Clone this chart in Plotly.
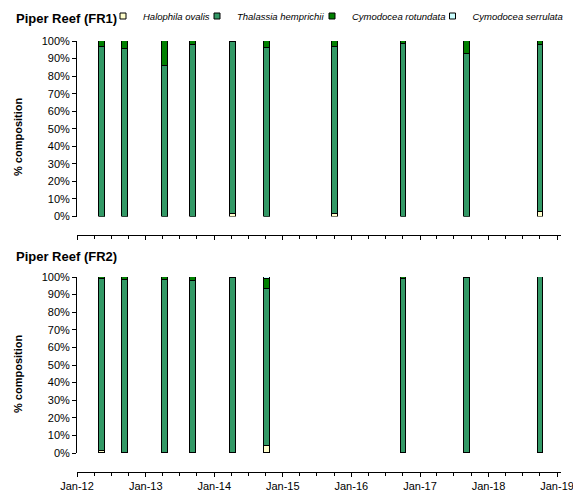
import plotly.graph_objects as go

W, H = 573, 493

species = ["Halophila ovalis", "Thalassia hemprichii", "Cymodocea rotundata", "Cymodocea serrulata"]
colors = ["#FFFFCC", "#339966", "#008000", "#CCFFFF"]

# Piper Reef (FR1)
fr1_dates = ["2012-05-12", "2012-09-11", "2013-04-14", "2013-09-10", "2014-04-11",
             "2014-10-09", "2015-10-06", "2016-10-06", "2017-09-07", "2018-10-05"]
fr1_halophila = [0, 0, 0, 0, 1.2, 0, 1.3, 0, 0, 2.3]
fr1_thalassia = [96.5, 95.5, 85.5, 97.5, 98.3, 96, 95.3, 98.5, 92.8, 95.7]
fr1_rotundata = [3.5, 4.5, 14.5, 2.5, 0.5, 4, 3.4, 1.5, 7.2, 2.0]
fr1_serrulata = [0, 0, 0, 0, 0, 0, 0, 0, 0, 0]

# Piper Reef (FR2)
fr2_dates = ["2012-05-12", "2012-09-11", "2013-04-14", "2013-09-10", "2014-04-11",
             "2014-10-09", "2016-10-06", "2017-09-07", "2018-10-05"]
fr2_halophila = [1.2, 0, 0, 0, 0, 4.2, 0, 0, 0]
fr2_thalassia = [97.6, 98.5, 98.2, 98.0, 99.5, 88.8, 99.0, 99.7, 100]
fr2_rotundata = [1.2, 1.5, 1.8, 2.0, 0.5, 5.8, 1.0, 0.3, 0]
fr2_serrulata = [0, 0, 0, 0, 0, 1.2, 0, 0, 0]

y_ticks = list(range(0, 101, 10))
y_tick_labels = [f"{v}%" for v in y_ticks]
title1 = "Piper Reef (FR1)"
title2 = "Piper Reef (FR2)"
ytitle = "% composition"

BAR_W = 30 * 86400000
FONT = "Liberation Sans, Arial, sans-serif"

fig = go.Figure()
fr1 = [fr1_halophila, fr1_thalassia, fr1_rotundata, fr1_serrulata]
fr2 = [fr2_halophila, fr2_thalassia, fr2_rotundata, fr2_serrulata]
for i, name in enumerate(species):
    fig.add_trace(go.Bar(x=fr1_dates, y=fr1[i], name=name, marker_color=colors[i],
                         marker_line=dict(color="black", width=1), width=BAR_W,
                         xaxis="x", yaxis="y", showlegend=False))
    fig.add_trace(go.Bar(x=fr2_dates, y=fr2[i], name=name, marker_color=colors[i],
                         marker_line=dict(color="black", width=1), width=BAR_W,
                         xaxis="x2", yaxis="y2", showlegend=False))

# legend entries (small square keys), one legend box per entry
leg_text_x = [143, 237, 352, 472.5]
for i, name in enumerate(species):
    lg = "legend" if i == 0 else f"legend{i+1}"
    fig.add_trace(go.Scatter(x=[None], y=[None], mode="markers", name=name,
                             marker=dict(symbol="square", size=6, color=colors[i],
                                         line=dict(color="black", width=1)),
                             xaxis="x", yaxis="y", legend=lg, showlegend=True))


def px_x(p):
    return p / W


def px_y(p):
    return 1 - p / H


xdom = [px_x(77), px_x(561)]
xrange_ = ["2012-01-01", "2019-01-22"]

axis_common = dict(
    type="date", range=xrange_, domain=xdom, anchor="free", automargin=False,
    showline=True, linecolor="black", linewidth=1,
    ticks="outside", ticklen=4, tickcolor="black",
    dtick="M12", tick0="2012-01-01", tickformat="%b-%y",
    tickfont=dict(family=FONT, size=11, color="black"),
    ticklabeloverflow="allow",
    minor=dict(dtick="M3", tick0="2012-01-01", ticks="outside", ticklen=3, tickcolor="black"),
    showgrid=False, zeroline=False,
)
yaxis_common = dict(
    range=[0, 100], tickmode="array", tickvals=y_ticks, ticktext=y_tick_labels,
    automargin=False,
    showline=True, linecolor="black", linewidth=1,
    ticks="outside", ticklen=4, tickcolor="black",
    tickfont=dict(family=FONT, size=11, color="black"),
    showgrid=False, zeroline=False,
)

legends = {}
for i in range(4):
    key = "legend" if i == 0 else f"legend{i+1}"
    legends[key] = dict(x=px_x(leg_text_x[i] - 40), y=px_y(16), xanchor="left", yanchor="middle",
                        orientation="h", bgcolor="rgba(0,0,0,0)",
                        font=dict(family=FONT, size=9.5, color="black", style="italic"),
                        itemwidth=30)

fig.update_layout(
    width=W, height=H,
    margin=dict(l=0, r=0, t=0, b=0, autoexpand=False),
    plot_bgcolor="white", paper_bgcolor="white",
    barmode="stack", bargap=0,
    xaxis=dict(**axis_common, position=px_y(234.5), showticklabels=False),
    yaxis=dict(**yaxis_common, domain=[px_y(216.5), px_y(41)], anchor="x"),
    xaxis2=dict(**axis_common, position=px_y(471.5)),
    yaxis2=dict(**yaxis_common, domain=[px_y(453), px_y(277)], anchor="x2"),
    **legends,
    annotations=[
        dict(text=f"<b>{title1}</b>", x=px_x(14), y=px_y(18), xref="paper", yref="paper",
             xanchor="left", yanchor="middle", showarrow=False,
             font=dict(family=FONT, size=13, color="black")),
        dict(text=f"<b>{title2}</b>", x=px_x(14), y=px_y(256), xref="paper", yref="paper",
             xanchor="left", yanchor="middle", showarrow=False,
             font=dict(family=FONT, size=13, color="black")),
        dict(text=f"<b>{ytitle}</b>", x=px_x(18), y=px_y(137), xref="paper", yref="paper",
             xanchor="center", yanchor="middle", textangle=-90, showarrow=False,
             font=dict(family=FONT, size=11, color="black")),
        dict(text=f"<b>{ytitle}</b>", x=px_x(18), y=px_y(374), xref="paper", yref="paper",
             xanchor="center", yanchor="middle", textangle=-90, showarrow=False,
             font=dict(family=FONT, size=11, color="black")),
    ],
)

fig.write_html("out.html")
